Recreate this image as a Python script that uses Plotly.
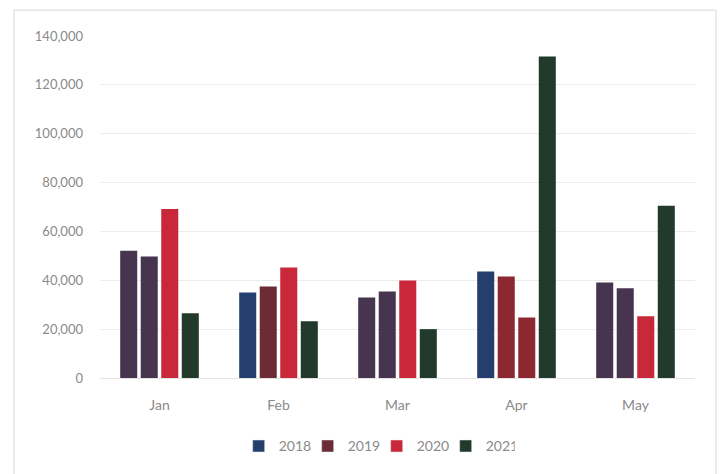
import plotly.graph_objects as go

months = ["Jan", "Feb", "Mar", "Apr", "May"]
years = ["2018", "2019", "2020", "2021"]
v2018 = [52100, 35000, 33000, 43600, 39100]
v2019 = [49700, 37500, 35400, 41500, 36700]
v2020 = [69200, 45200, 39900, 24800, 25300]
v2021 = [26500, 23200, 20000, 131600, 70500]

legend_colors = ["#243F6E", "#6B2C35", "#C8283A", "#223A2C"]
bar_colors = [
    ["#473550", "#243F6E", "#473550", "#243F6E", "#473550"],
    ["#473550", "#6B2C35", "#473550", "#8B2832", "#473550"],
    ["#C8283A", "#C8283A", "#C8283A", "#8B2832", "#C8283A"],
    ["#223A2C", "#223A2C", "#223A2C", "#223A2C", "#223A2C"],
]

fig = go.Figure()
for i, (name, vals, cols) in enumerate(zip(years, [v2018, v2019, v2020, v2021], bar_colors)):
    fig.add_trace(go.Bar(x=months, y=vals, name=name, offsetgroup=str(i),
                         marker=dict(color=cols, line=dict(width=0)), showlegend=False))
for i, (name, c) in enumerate(zip(years, legend_colors)):
    fig.add_trace(go.Bar(x=[months[0]], y=[None], name=name, offsetgroup=str(i),
                         marker=dict(color=c)))

font = "Lato, 'Open Sans', sans-serif"
fig.update_layout(
    width=721, height=474,
    margin=dict(l=100, r=26, t=36, b=94),
    paper_bgcolor="white", plot_bgcolor="white",
    barmode="group", bargap=0.31, bargroupgap=0.17,
    font=dict(family=font, color="#8a8a8a", size=13),
    legend=dict(orientation="h", x=0.465, xanchor="center", y=-0.2, yanchor="middle",
                font=dict(size=14, color="#8a8a8a"), itemwidth=30, traceorder="normal",
                entrywidth=24, entrywidthmode="pixels"),
    showlegend=True,
    xaxis=dict(showgrid=False, showline=True, linecolor="#e4e4e4", ticks="",
               ticklabelstandoff=14, tickfont=dict(size=14, color="#8a8a8a")),
    yaxis=dict(range=[0, 140000], dtick=20000, tickformat=",d", showgrid=True,
               gridcolor="#ececec", zeroline=False, ticks="", ticklabelstandoff=16,
               tickfont=dict(size=13, color="#8a8a8a")),
    shapes=[dict(type="rect", xref="paper", yref="paper",
                 x0=(14 - 100) / 595, x1=(716 - 100) / 595,
                 y0=(94 - 470) / 344, y1=1 + (36 - 10) / 344,
                 line=dict(color="#e6e6e6", width=1.5))],
)
fig.write_html("out.html")
